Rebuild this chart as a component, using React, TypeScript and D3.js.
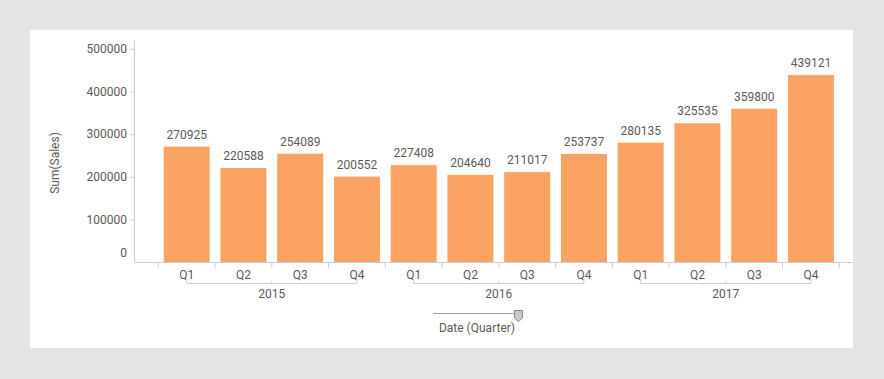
import React from "react";
import * as d3 from "d3";

const years = ["2015", "2016", "2017"];
const quarters = ["Q1", "Q2", "Q3", "Q4"];
const sales = [
  270925, 220588, 254089, 200552,
  227408, 204640, 211017, 253737,
  280135, 325535, 359800, 439121,
];
const yTicks = [0, 100000, 200000, 300000, 400000, 500000];

const W = 884;
const H = 379;
const FONT = "Roboto, 'Noto Sans', sans-serif";
const TEXT = "#5b5b5b";
const AXIS = "#cdcdd8";
const BAR = "#fba362";

export default function App() {
  const cats = years.flatMap((y) => quarters.map((q) => `${y}-${q}`));
  const x = d3.scaleBand<string>().domain(cats).range([158.3, 839.3]).paddingInner(0.19).paddingOuter(0.095);
  const y = d3.scaleLinear().domain([0, 500000]).range([262, 49]);
  const step = x.step();
  const x0 = 158.3;
  const axisY = 262;

  return (
    <svg width={W} height={H} style={{ position: "absolute", left: 0, top: 0, fontFamily: FONT }}>
      <rect x={0} y={0} width={W} height={H} fill="#e4e4e4" />
      <rect x={30} y={30} width={823} height={318} fill="#ffffff" />

      {/* y axis */}
      <line x1={134.5} x2={134.5} y1={41} y2={axisY} stroke={AXIS} />
      {yTicks.map((t) => (
        <g key={t}>
          {t > 0 && <line x1={130} x2={134.5} y1={y(t) + 0.5} y2={y(t) + 0.5} stroke={AXIS} />}
          <text
            x={127}
            y={t === 0 ? axisY - 5 : y(t)}
            dy={t === 0 ? 0 : "0.35em"}
            textAnchor="end"
            fontSize={12}
            fill={TEXT}
          >
            {t}
          </text>
        </g>
      ))}
      <text
        transform={`translate(59,163) rotate(-90)`}
        textAnchor="middle"
        fontSize={12}
        fill={TEXT}
      >
        Sum(Sales)
      </text>

      {/* bars */}
      {cats.map((c, i) => (
        <g key={c}>
          <rect x={x(c)} y={y(sales[i])} width={x.bandwidth()} height={axisY - y(sales[i])} fill={BAR} />
          <text
            x={(x(c) as number) + x.bandwidth() / 2}
            y={y(sales[i]) - 8}
            textAnchor="middle"
            fontSize={12}
            fill={TEXT}
          >
            {sales[i]}
          </text>
        </g>
      ))}

      {/* x axis */}
      <line x1={134} x2={853} y1={axisY + 0.5} y2={axisY + 0.5} stroke={AXIS} />
      {d3.range(cats.length + 1).map((i) => (
        <line key={i} x1={x0 + i * step} x2={x0 + i * step} y1={axisY} y2={axisY + 6} stroke={AXIS} />
      ))}
      {cats.map((c, i) => (
        <text
          key={c}
          x={(x(c) as number) + x.bandwidth() / 2}
          y={275}
          dy="0.35em"
          textAnchor="middle"
          fontSize={12}
          fill={TEXT}
        >
          {quarters[i % 4]}
        </text>
      ))}
      {years.map((yr, k) => {
        const a = (x(`${yr}-Q1`) as number) + x.bandwidth() / 2;
        const b = (x(`${yr}-Q4`) as number) + x.bandwidth() / 2;
        const m = (a + b) / 2;
        return (
          <g key={yr}>
            <path d={`M${a},279V283.5H${b}V279`} fill="none" stroke={AXIS} />
            <line x1={m} x2={m} y1={283.5} y2={281} stroke={AXIS} />
            <text x={m} y={294} dy="0.35em" textAnchor="middle" fontSize={12} fill={TEXT}>
              {yr}
            </text>
          </g>
        );
      })}

      {/* slider */}
      <line x1={433} x2={515} y1={313.5} y2={313.5} stroke="#a0a0a0" />
      <path d="M514.5,310.5H522.5V318L518.5,321.5L514.5,318Z" fill="#c8c8c8" stroke="#8a8a8a" />
      <text x={477} y={328} dy="0.35em" textAnchor="middle" fontSize={12} fill={TEXT}>
        Date (Quarter)
      </text>
    </svg>
  );
}
